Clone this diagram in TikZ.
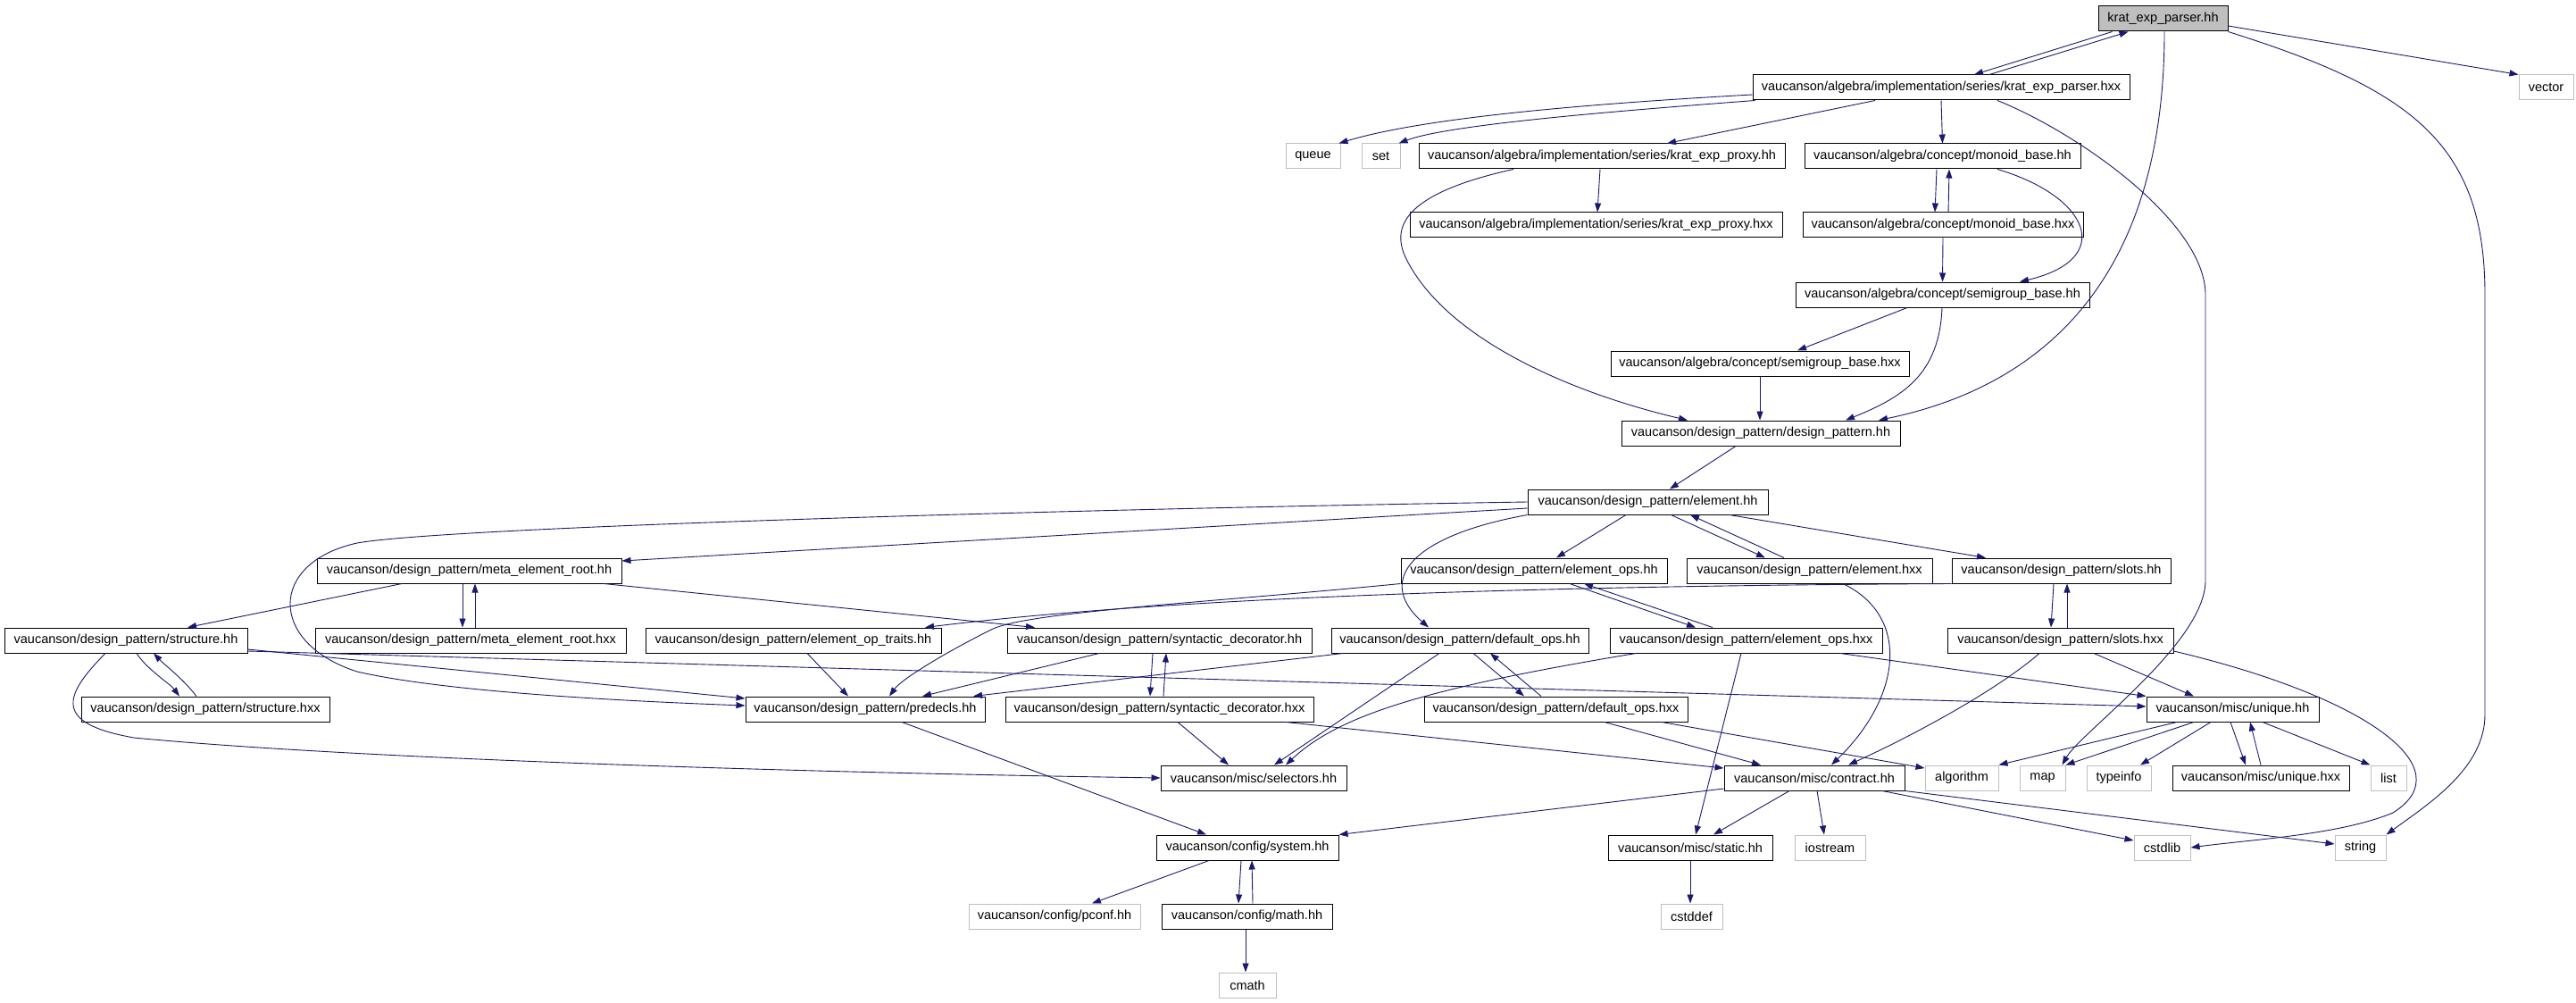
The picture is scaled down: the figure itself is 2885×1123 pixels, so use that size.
\documentclass[tikz,border=0pt]{standalone}
\usepackage{fontspec}
\setmainfont{Liberation Sans}
\usetikzlibrary{arrows.meta}
\definecolor{edgeblue}{RGB}{25,25,112}
\definecolor{extgray}{RGB}{191,191,191}
\tikzset{
  file/.style={draw=black, fill=white, line width=1pt, minimum height=28pt, inner sep=0pt, font=\fontsize{14.5}{16}\selectfont},
  extfile/.style={file, draw=extgray},
  rootfile/.style={file, fill=extgray},
  dep/.style={-{Triangle[length=10pt,width=7pt]}, draw=edgeblue, line width=0.9pt},
}
\begin{document}
\begin{tikzpicture}[x=1pt,y=-1pt]
          \fill[white] (0,0) rectangle (2885,1123);

          \node[rootfile, minimum width=145pt] (root) at (2422.5,21) {krat\_exp\_parser.hh};
          \node[extfile, minimum width=61pt] (vector) at (2851.5,98) {vector};
          \node[file, minimum width=422pt] (parserhxx) at (2174,98) {vaucanson/algebra/implementation/series/krat\_exp\_parser.hxx};
          \node[extfile, minimum width=61pt] (queue) at (1470.5,175) {queue};
          \node[extfile, minimum width=43pt] (set) at (1546.5,175) {set};
          \node[file, minimum width=410pt] (proxyhh) at (1794,175) {vaucanson/algebra/implementation/series/krat\_exp\_proxy.hh};
          \node[file, minimum width=309pt] (monoidhh) at (2175.5,175) {vaucanson/algebra/concept/monoid\_base.hh};
          \node[file, minimum width=417pt] (proxyhxx) at (1787.5,252) {vaucanson/algebra/implementation/series/krat\_exp\_proxy.hxx};
          \node[file, minimum width=314pt] (monoidhxx) at (2176,252) {vaucanson/algebra/concept/monoid\_base.hxx};
          \node[file, minimum width=329pt] (semigrouphh) at (2175.5,330) {vaucanson/algebra/concept/semigroup\_base.hh};
          \node[file, minimum width=334pt] (semigrouphxx) at (1971,407) {vaucanson/algebra/concept/semigroup\_base.hxx};
          \node[file, minimum width=312pt] (designpattern) at (1972,485) {vaucanson/design\_pattern/design\_pattern.hh};
          \node[file, minimum width=269pt] (elementhh) at (1845.5,562) {vaucanson/design\_pattern/element.hh};
          \node[file, minimum width=341pt] (metaroothh) at (525.5,639) {vaucanson/design\_pattern/meta\_element\_root.hh};
          \node[file, minimum width=298pt] (elemopshh) at (1718,639) {vaucanson/design\_pattern/element\_ops.hh};
          \node[file, minimum width=275pt] (elementhxx) at (2026.5,639) {vaucanson/design\_pattern/element.hxx};
          \node[file, minimum width=245pt] (slotshh) at (2308.5,639) {vaucanson/design\_pattern/slots.hh};
          \node[file, minimum width=272pt] (structurehh) at (141,717) {vaucanson/design\_pattern/structure.hh};
          \node[file, minimum width=348pt] (metaroothxx) at (527,717) {vaucanson/design\_pattern/meta\_element\_root.hxx};
          \node[file, minimum width=331pt] (optraits) at (888.5,717) {vaucanson/design\_pattern/element\_op\_traits.hh};
          \node[file, minimum width=341pt] (syndechh) at (1298.5,717) {vaucanson/design\_pattern/syntactic\_decorator.hh};
          \node[file, minimum width=288pt] (defopshh) at (1635,717) {vaucanson/design\_pattern/default\_ops.hh};
          \node[file, minimum width=305pt] (elemopshxx) at (1955.5,717) {vaucanson/design\_pattern/element\_ops.hxx};
          \node[file, minimum width=253pt] (slotshxx) at (2307.5,717) {vaucanson/design\_pattern/slots.hxx};
          \node[file, minimum width=278pt] (structurehxx) at (230,794) {vaucanson/design\_pattern/structure.hxx};
          \node[file, minimum width=268pt] (predecls) at (969,794) {vaucanson/design\_pattern/predecls.hh};
          \node[file, minimum width=345pt] (syndechxx) at (1298.5,794) {vaucanson/design\_pattern/syntactic\_decorator.hxx};
          \node[file, minimum width=295pt] (defopshxx) at (1742.5,794) {vaucanson/design\_pattern/default\_ops.hxx};
          \node[file, minimum width=193pt] (uniquehh) at (2500.5,794) {vaucanson/misc/unique.hh};
          \node[file, minimum width=208pt] (selectors) at (1404,871) {vaucanson/misc/selectors.hh};
          \node[file, minimum width=202pt] (contract) at (2032,871) {vaucanson/misc/contract.hh};
          \node[extfile, minimum width=82pt] (algorithm) at (2197,871) {algorithm};
          \node[extfile, minimum width=51pt] (map) at (2287.5,871) {map};
          \node[extfile, minimum width=72pt] (typeinfo) at (2373,871) {typeinfo};
          \node[file, minimum width=198pt] (uniquehxx) at (2532,871) {vaucanson/misc/unique.hxx};
          \node[extfile, minimum width=40pt] (list) at (2675,871) {list};
          \node[file, minimum width=204pt] (system) at (1397,949) {vaucanson/config/system.hh};
          \node[file, minimum width=184pt] (static) at (1893,949) {vaucanson/misc/static.hh};
          \node[extfile, minimum width=79pt] (iostream) at (2049.5,949) {iostream};
          \node[extfile, minimum width=63pt] (cstdlib) at (2421.5,949) {cstdlib};
          \node[extfile, minimum width=57pt] (string) at (2643.5,949) {string};
          \node[extfile, minimum width=192pt] (pconf) at (1181,1026) {vaucanson/config/pconf.hh};
          \node[file, minimum width=191pt] (math) at (1396.5,1026) {vaucanson/config/math.hh};
          \node[extfile, minimum width=69pt] (cstddef) at (1894.5,1026) {cstddef};
          \node[extfile, minimum width=64pt] (cmath) at (1397,1103) {cmath};

          \draw[dep] ([xshift=-57pt]root.south) to ([xshift=37pt]parserhxx.north);
          \draw[dep] ([xshift=54pt]parserhxx.north) to ([xshift=-39pt]root.south);
          \draw[dep] ([yshift=-8pt]root.east) to (vector.north west);
          \draw[dep] (root.south east) .. controls (2700,100) and (2783,160) .. (2783,330) -- (2783,800) .. controls (2783,860) and (2720,900) .. (string.north east);
          \draw[dep] ([xshift=1.5pt]root.south) .. controls (2424,300) and (2300,430) .. ([xshift=132pt]designpattern.north);

          \draw[dep] ([yshift=-8pt]parserhxx.west) .. controls (1800,115) and (1600,130) .. ([xshift=-2pt]queue.north east);
          \draw[dep] ([xshift=3pt]parserhxx.south west) .. controls (1800,125) and (1620,140) .. ([xshift=-2pt]set.north east);
          \draw[dep] ([xshift=-74pt]parserhxx.south) to ([xshift=73pt]proxyhh.north);
          \draw[dep] (parserhxx.south) to (monoidhh.north);
          \draw[dep] ([xshift=63pt]parserhxx.south) .. controls (2330,150) and (2470,250) .. (2470,330) -- (2470,650) .. controls (2470,720) and (2330,820) .. ([xshift=22pt]map.north);

          \draw[dep] ([xshift=-2pt]proxyhh.south) to ([xshift=1.5pt]proxyhxx.north);
          \draw[dep] ([xshift=-99pt]proxyhh.south) .. controls (1580,215) and (1555,250) .. (1575,290) .. controls (1620,380) and (1760,440) .. ([xshift=-82pt]designpattern.north);
          \draw[dep] ([xshift=-6.5pt]monoidhh.south) to ([xshift=-9pt]monoidhxx.north);
          \draw[dep] ([xshift=6pt]monoidhxx.north) to ([xshift=7.5pt]monoidhh.south);
          \draw[dep] ([xshift=61.5pt]monoidhh.south) .. controls (2340,220) and (2370,290) .. ([xshift=86.5pt]semigrouphh.north);
          \draw[dep] (monoidhxx.south) to (semigrouphh.north);
          \draw[dep] ([xshift=-39.5pt]semigrouphh.south) to ([xshift=42pt]semigrouphxx.north);
          \draw[dep] ([xshift=-0.5pt]semigrouphh.south) .. controls (2172,420) and (2130,445) .. ([xshift=95pt]designpattern.north);
          \draw[dep] (semigrouphxx.south) to ([xshift=-1pt]designpattern.north);
          \draw[dep] ([xshift=-28pt]designpattern.south) to ([xshift=24.5pt]elementhh.north);

          \draw[dep] ([yshift=-7pt]elementhh.west) to ([yshift=11pt]metaroothh.east);
          \draw[dep] (elementhh.west) .. controls (1200,570) and (500,590) .. (400,608) .. controls (300,630) and (300,720) .. (400,752) .. controls (500,775) and (700,785) .. ([yshift=4pt]predecls.west);
          \draw[dep] ([xshift=-24.5pt]elementhh.south) to ([xshift=25pt]elemopshh.north);
          \draw[dep] ([xshift=26pt]elementhh.south) to ([xshift=-49.5pt]elementhxx.north);
          \draw[dep] ([xshift=-28.5pt]elementhxx.north) to ([xshift=47.5pt]elementhh.south);
          \draw[dep] ([xshift=91.5pt]elementhh.south) to ([xshift=-84.5pt]slotshh.north);
          \draw[dep] (elementhh.south west) .. controls (1580,600) and (1540,650) .. ([xshift=-35pt]defopshh.north);

          \draw[dep] ([xshift=-7.5pt]metaroothh.south) to ([xshift=-9pt]metaroothxx.north);
          \draw[dep] ([xshift=5pt]metaroothxx.north) to ([xshift=6.5pt]metaroothh.south);
          \draw[dep] ([xshift=-75.5pt]metaroothh.south) to ([xshift=69pt]structurehh.north);
          \draw[dep] ([xshift=150.5pt]metaroothh.south) to ([xshift=-139.5pt]syndechh.north);
          \draw[dep] (slotshh.south west) .. controls (1700,656) and (1300,670) .. ([xshift=147.5pt]optraits.north);
          \draw[dep] (elemopshh.south west) .. controls (1350,675) and (1150,685) .. (1110,705) .. controls (1060,730) and (1010,760) .. ([xshift=27pt]predecls.north);
          \draw[dep] ([xshift=40pt]elemopshh.south) to ([xshift=-56.5pt]elemopshxx.north);
          \draw[dep] ([xshift=-37.5pt]elemopshxx.north) to ([xshift=56pt]elemopshh.south);
          \draw[dep] ([xshift=37.5pt]elementhxx.south) .. controls (2140,690) and (2130,780) .. ([xshift=19pt]contract.north);
          \draw[dep] ([xshift=-8.5pt]slotshh.south) to ([xshift=-10.5pt]slotshxx.north);
          \draw[dep] ([xshift=7.5pt]slotshxx.north) to ([xshift=6.5pt]slotshh.south);

          \draw[dep] ([xshift=12pt]structurehh.south) .. controls (165,750) and (190,765) .. ([xshift=-29pt]structurehxx.north);
          \draw[dep] ([xshift=-10pt]structurehxx.north) .. controls (205,760) and (185,745) .. ([xshift=31pt]structurehh.south);
          \draw[dep] ([xshift=-23pt]structurehh.south) .. controls (70,780) and (60,810) .. (150,826) .. controls (400,850) and (900,865) .. (selectors.west);
          \draw[dep] ([yshift=-10pt]structurehh.east) to ([yshift=12pt]predecls.west);
          \draw[dep] ([yshift=-12pt]structurehh.east) to ([yshift=3pt]uniquehh.west);
          \draw[dep] ([xshift=15.5pt]optraits.south) to ([xshift=-19pt]predecls.north);
          \draw[dep] ([xshift=-67.5pt]syndechh.south) to ([xshift=64pt]predecls.north);
          \draw[dep] ([xshift=-7.5pt]syndechh.south) to ([xshift=-10.5pt]syndechxx.north);
          \draw[dep] ([xshift=4.5pt]syndechxx.north) to ([xshift=7.5pt]syndechh.south);
          \draw[dep] ([xshift=-131pt]defopshh.south) to ([xshift=121pt]predecls.north);
          \draw[dep] ([xshift=15pt]defopshh.south) to ([xshift=-35.5pt]defopshxx.north);
          \draw[dep] ([xshift=-16.5pt]defopshxx.north) to ([xshift=34pt]defopshh.south);
          \draw[dep] ([xshift=-23pt]defopshh.south) to ([xshift=23pt]selectors.north);
          \draw[dep] ([xshift=-123.5pt]elemopshxx.south) .. controls (1600,770) and (1500,800) .. ([xshift=36pt]selectors.north);
          \draw[dep] ([xshift=-5.5pt]elemopshxx.south) to ([xshift=6pt]static.north);
          \draw[dep] ([xshift=105.5pt]elemopshxx.south) to (uniquehh.north west);
          \draw[dep] ([xshift=-23.5pt]slotshxx.south) .. controls (2240,770) and (2150,820) .. ([xshift=38pt]contract.north);
          \draw[dep] ([xshift=37.5pt]slotshxx.south) to ([xshift=-43.5pt]uniquehh.north);
          \draw[dep] ([yshift=-12pt]slotshxx.east) .. controls (2650,780) and (2760,860) .. (2680,910) .. controls (2620,935) and (2520,940) .. (cstdlib.east);

          \draw[dep] ([xshift=20.5pt]syndechxx.south) to ([xshift=-28pt]selectors.north);
          \draw[dep] ([xshift=141.5pt]syndechxx.south) to ([yshift=11pt]contract.west);
          \draw[dep] ([xshift=54.5pt]defopshxx.south) to ([xshift=-60pt]contract.north);
          \draw[dep] ([xshift=118.5pt]defopshxx.south) to ([yshift=11pt]algorithm.west);
          \draw[dep] ([xshift=41pt]predecls.south) to ([xshift=-46pt]system.north);
          \draw[dep] ([yshift=-12pt]contract.west) to (system.north east);
          \draw[dep] ([xshift=-28pt]contract.south) to ([xshift=26pt]static.north);
          \draw[dep] ([xshift=3pt]contract.south) to ([xshift=-6.5pt]iostream.north);
          \draw[dep] ([xshift=76pt]contract.south) to ([yshift=8pt]cstdlib.west);
          \draw[dep] (contract.south east) to ([yshift=4pt]string.west);
          \draw[dep] ([xshift=-62.5pt]uniquehh.south) to (algorithm.north east);
          \draw[dep] ([xshift=-43.5pt]uniquehh.south) to (map.north east);
          \draw[dep] ([xshift=-24.5pt]uniquehh.south) to ([xshift=24pt]typeinfo.north);
          \draw[dep] ([xshift=-2.5pt]uniquehh.south) to ([xshift=-17pt]uniquehxx.north);
          \draw[dep] (uniquehxx.north) to ([xshift=19.5pt]uniquehh.south);
          \draw[dep] ([xshift=33.5pt]uniquehh.south) to (list.north west);

          \draw[dep] ([xshift=-43pt]system.south) to ([xshift=42pt]pconf.north);
          \draw[dep] ([xshift=-7pt]system.south) to ([xshift=-9.5pt]math.north);
          \draw[dep] ([xshift=6.5pt]math.north) to ([xshift=5pt]system.south);
          \draw[dep] ([xshift=-1.5pt]math.south) to ([xshift=-2pt]cmath.north);
          \draw[dep] (static.south) to ([xshift=-1.5pt]cstddef.north);
        \end{tikzpicture}
\end{document}
